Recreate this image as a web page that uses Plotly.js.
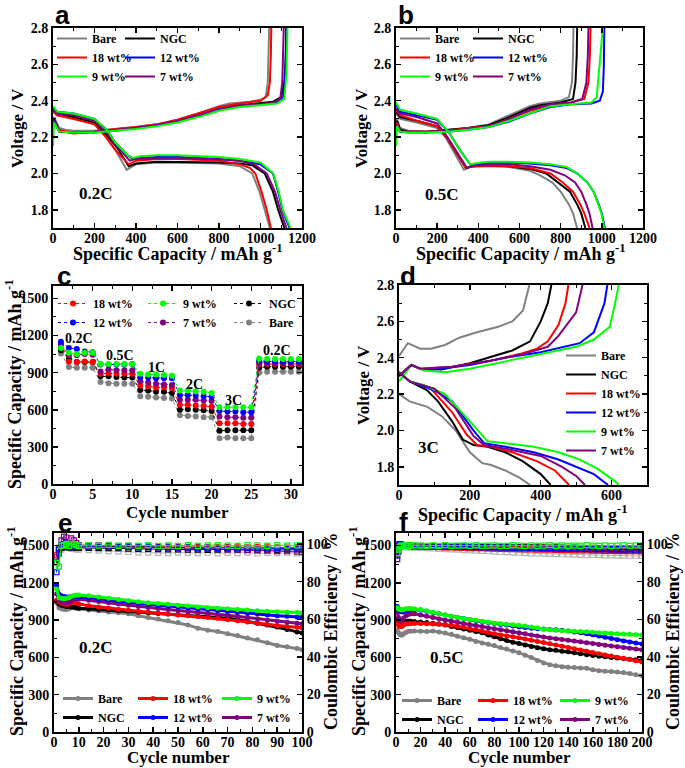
<!DOCTYPE html>
<html><head><meta charset="utf-8">
<script src="https://cdn.plot.ly/plotly-3.0.1.min.js"></script>
<style>html,body{margin:0;padding:0;background:#fff}#chart{width:685px;height:768px}</style>
</head><body><div id="chart"></div>
<script>
// ---------------- DATA ----------------
const seriesNames = ['Bare','NGC','18 wt%','12 wt%','9 wt%','7 wt%'];

// Panel a (0.2C) discharge / charge : capacity (mAh g-1) and voltage (V)
const aDisCapBare=[0,20,100,200,250,300,355,400,500,600,700,800,900,960,995,1020,1045];
const aDisVBare  =[2.35,2.33,2.31,2.27,2.21,2.13,2.02,2.05,2.06,2.06,2.058,2.055,2.04,2.0,1.9,1.8,1.7];
const aDisCapNGC =[0,20,100,200,260,310,365,400,500,600,700,800,900,960,1020,1060,1085,1115];
const aDisVNGC   =[2.35,2.33,2.31,2.28,2.21,2.14,2.04,2.055,2.065,2.065,2.062,2.06,2.055,2.045,2.0,1.9,1.8,1.7];
const aDisCap18  =[0,20,100,200,255,300,365,400,500,600,700,800,900,950,975,1005,1030,1050];
const aDisV18    =[2.34,2.32,2.3,2.27,2.2,2.13,2.05,2.07,2.08,2.08,2.075,2.07,2.05,2.03,2.0,1.9,1.8,1.7];
const aDisCap12  =[0,20,100,200,260,300,360,385,420,500,600,700,800,900,1000,1060,1085,1105,1140];
const aDisV12    =[2.36,2.34,2.33,2.3,2.24,2.17,2.1,2.08,2.085,2.09,2.09,2.085,2.08,2.07,2.05,2.0,1.9,1.8,1.7];
const aDisCap9   =[0,20,100,200,260,300,360,385,420,500,600,700,800,900,1000,1062,1088,1108,1145];
const aDisV9     =[2.37,2.34,2.33,2.3,2.24,2.17,2.1,2.085,2.095,2.1,2.1,2.095,2.09,2.08,2.06,2.0,1.9,1.8,1.7];
const aDisCap7   =[0,20,100,200,255,300,370,400,500,600,700,800,900,970,1030,1070,1095,1125];
const aDisV7     =[2.35,2.33,2.32,2.29,2.23,2.16,2.07,2.08,2.085,2.085,2.08,2.078,2.07,2.05,2.0,1.9,1.8,1.7];
const aChgCapBare=[0,5,30,60,100,200,300,400,500,600,700,800,850,900,950,1000,1025,1035,1040,1042];
const aChgVBare  =[2.3,2.31,2.25,2.24,2.235,2.235,2.245,2.255,2.27,2.295,2.33,2.37,2.385,2.39,2.395,2.405,2.42,2.5,2.65,2.8];
const aChgCapNGC =[0,5,30,100,200,300,400,500,600,700,800,900,1000,1060,1100,1115,1122,1125];
const aChgVNGC   =[2.26,2.28,2.23,2.225,2.23,2.24,2.25,2.265,2.29,2.32,2.355,2.375,2.385,2.395,2.42,2.5,2.65,2.8];
const aChgCap18  =[0,5,30,100,200,300,400,500,600,700,800,900,1000,1035,1045,1050,1052];
const aChgV18    =[2.28,2.3,2.24,2.22,2.23,2.245,2.255,2.27,2.295,2.33,2.365,2.385,2.4,2.43,2.5,2.65,2.8];
const aChgCap12  =[0,5,30,100,200,300,400,500,600,700,800,900,1000,1080,1110,1120,1124];
const aChgV12    =[2.27,2.3,2.23,2.225,2.225,2.235,2.25,2.265,2.285,2.315,2.35,2.37,2.38,2.39,2.42,2.55,2.8];
const aChgCap9   =[0,5,30,100,200,300,400,500,600,700,800,900,1000,1080,1115,1125,1130];
const aChgV9     =[2.15,2.28,2.23,2.225,2.225,2.235,2.245,2.26,2.28,2.31,2.345,2.365,2.375,2.385,2.41,2.55,2.8];
const aChgCap7   =[0,5,30,100,200,300,400,500,600,700,800,900,1000,1060,1095,1105,1110,1112];
const aChgV7     =[2.27,2.29,2.23,2.225,2.23,2.24,2.25,2.265,2.29,2.32,2.355,2.375,2.38,2.39,2.41,2.5,2.65,2.8];

// Panel b (0.5C)
const bDisCapBare=[0,20,100,200,240,280,330,360,450,550,650,700,760,800,840,860,880];
const bDisVBare  =[2.33,2.3,2.28,2.25,2.2,2.12,2.02,2.035,2.04,2.035,2.015,1.99,1.95,1.9,1.83,1.78,1.7];
const bDisCapNGC =[0,20,100,200,245,290,340,370,450,550,650,730,790,845,880,900,920];
const bDisVNGC   =[2.34,2.31,2.29,2.26,2.2,2.12,2.03,2.04,2.045,2.04,2.025,2.0,1.95,1.9,1.83,1.78,1.7];
const bDisCap18  =[0,20,100,200,245,290,340,370,450,550,650,750,810,860,895,915,940];
const bDisV18    =[2.35,2.32,2.29,2.26,2.2,2.12,2.03,2.04,2.045,2.04,2.03,2.0,1.95,1.9,1.83,1.78,1.7];
const bDisCap12  =[0,20,100,200,260,310,360,380,450,550,650,750,830,880,930,960,985,1000,1015];
const bDisV12    =[2.38,2.34,2.32,2.295,2.22,2.13,2.05,2.05,2.06,2.06,2.055,2.045,2.03,2.0,1.95,1.9,1.83,1.78,1.7];
const bDisCap9   =[0,20,100,200,260,310,360,380,450,550,650,750,830,880,930,960,983,998,1012];
const bDisV9     =[2.39,2.35,2.33,2.3,2.22,2.13,2.05,2.055,2.065,2.065,2.06,2.05,2.035,2.0,1.95,1.9,1.83,1.78,1.7];
const bDisCap7   =[0,20,100,200,250,295,345,375,450,550,650,750,820,870,900,925,940,955];
const bDisV7     =[2.36,2.33,2.31,2.275,2.2,2.12,2.03,2.045,2.05,2.05,2.04,2.02,1.99,1.95,1.9,1.83,1.78,1.7];
const bChgCapBare=[0,5,20,60,150,250,350,450,550,650,700,800,840,855,860,862];
const bChgVBare  =[2.26,2.3,2.25,2.235,2.23,2.24,2.25,2.27,2.32,2.37,2.385,2.4,2.42,2.5,2.65,2.8];
const bChgCapNGC =[0,5,20,60,150,250,350,450,550,650,700,800,860,872,878,880];
const bChgVNGC   =[2.25,2.29,2.24,2.23,2.23,2.24,2.25,2.265,2.31,2.36,2.375,2.39,2.41,2.5,2.65,2.8];
const bChgCap18  =[0,5,20,60,150,250,350,450,550,650,750,850,915,935,942,945];
const bChgV18    =[2.25,2.28,2.23,2.23,2.23,2.235,2.25,2.26,2.3,2.345,2.375,2.39,2.41,2.5,2.65,2.8];
const bChgCap12  =[0,5,20,60,150,250,350,450,550,650,750,850,950,990,1005,1010,1012];
const bChgV12    =[2.2,2.26,2.23,2.225,2.225,2.23,2.24,2.255,2.285,2.33,2.365,2.38,2.385,2.4,2.45,2.6,2.8];
const bChgCap9   =[0,5,20,60,150,250,350,450,550,650,750,850,950,975,985,1000,1005];
const bChgV9     =[2.15,2.26,2.23,2.225,2.225,2.23,2.24,2.255,2.29,2.33,2.37,2.38,2.39,2.42,2.55,2.7,2.8];
const bChgCap7   =[0,5,20,60,150,250,350,450,550,650,750,850,905,925,932,935];
const bChgV7     =[2.25,2.27,2.23,2.23,2.23,2.235,2.245,2.26,2.3,2.35,2.38,2.39,2.41,2.5,2.65,2.8];

// Panel c (rate capability)
const cCycles=[1,2,3,4,5,6,7,8,9,10,11,12,13,14,15,16,17,18,19,20,21,22,23,24,25,26,27,28,29,30,31];
const c18  =[1130,990,985,990,985, 890,895,890,890,890, 795,790,780,780,775, 640,640,635,630,625, 490,490,490,485,485, 965,970,970,970,970,970];
const c12  =[1150,1100,1090,1070,1065, 965,965,965,965,970, 860,860,855,855,855, 720,720,715,710,705, 590,585,585,580,580, 995,990,990,990,990,990];
const c9   =[1100,1060,1050,1060,1060, 970,970,970,970,970, 890,885,885,880,875, 755,755,750,745,735, 620,620,620,620,620, 1015,1012,1010,1010,1010,1010];
const c7   =[1125,1040,1040,1050,1045, 910,925,920,920,920, 830,820,810,805,800, 680,680,680,675,670, 545,540,540,535,535, 980,978,978,978,978,978];
const cNGC =[1080,1015,985,985,985, 870,870,865,860,860, 760,755,745,745,735, 600,605,600,595,590, 430,435,435,435,435, 940,948,948,948,948,948];
const cBare=[1055,945,940,940,940, 825,815,810,810,810, 710,705,700,695,690, 555,550,545,540,540, 370,375,370,370,370, 900,908,908,908,908,908];
const cRates=['0.2C','0.5C','1C','2C','3C','0.2C'];
const cRateX=[3.3,8.4,13.0,17.9,22.8,28.2];
const cRateY=[1172,1037,940,808,678,1075];

// Panel d (3C)
const dDisCapBare=[0,30,80,120,160,200,235,260,300,340,370];
const dDisVBare  =[2.2,2.16,2.13,2.08,2.0,1.88,1.82,1.81,1.78,1.74,1.7];
const dChgCapBare=[0,25,60,90,130,170,220,280,320,350,368];
const dChgVBare  =[2.41,2.48,2.45,2.45,2.47,2.51,2.54,2.57,2.6,2.66,2.8];
const dDisCapNGC =[0,30,80,110,150,180,210,250,300,350,400,428];
const dDisVNGC   =[2.32,2.27,2.22,2.16,2.05,1.95,1.92,1.91,1.88,1.83,1.76,1.7];
const dChgCapNGC =[0,35,60,120,200,270,320,370,400,420,430];
const dChgVNGC   =[2.3,2.36,2.34,2.335,2.37,2.41,2.44,2.49,2.6,2.7,2.8];
const dDisCap18  =[0,30,90,150,190,220,260,320,390,440,480];
const dDisV18    =[2.32,2.27,2.23,2.1,1.98,1.92,1.91,1.88,1.83,1.78,1.7];
const dChgCap18  =[0,35,60,150,250,340,390,420,450,470,478];
const dChgV18    =[2.3,2.36,2.34,2.35,2.38,2.42,2.45,2.49,2.58,2.7,2.8];
const dDisCap12  =[0,30,100,150,210,240,300,380,450,550,590];
const dDisV12    =[2.32,2.27,2.22,2.16,2.0,1.93,1.91,1.88,1.84,1.76,1.7];
const dChgCap12  =[0,35,60,100,200,300,400,510,550,580,588];
const dChgV12    =[2.3,2.36,2.34,2.335,2.36,2.4,2.43,2.48,2.54,2.7,2.8];
const dDisCap9   =[0,30,70,130,200,250,300,380,450,510,560,610,620];
const dDisV9     =[2.32,2.27,2.25,2.2,2.05,1.94,1.93,1.91,1.88,1.84,1.79,1.72,1.7];
const dChgCap9   =[0,35,70,130,200,300,400,500,550,595,610,620];
const dChgV9     =[2.27,2.36,2.33,2.32,2.34,2.38,2.42,2.46,2.5,2.57,2.7,2.8];
const dDisCap7   =[0,30,100,160,210,240,300,400,460,500,525];
const dDisV7     =[2.32,2.27,2.23,2.12,1.97,1.92,1.9,1.86,1.8,1.75,1.7];
const dChgCap7   =[0,35,60,150,250,350,420,450,500,518];
const dChgV7     =[2.3,2.36,2.34,2.35,2.38,2.42,2.46,2.52,2.65,2.8];

// Panel e (0.2C cycling)
const eCycles=[1,2,3,4,5,6,7,8,9,10,14,18,22,26,30,34,38,42,46,50,54,58,62,66,70,74,78,82,86,90,94,98,100];
const eCapBare=[1040,1000,990,985,985,990,1000,1000,995,990,980,975,965,958,950,935,920,908,895,880,860,835,818,808,790,775,755,742,718,695,685,672,662];
const eCapNGC =[1050,1030,1020,1015,1010,1010,1005,1005,1000,995,990,985,980,975,970,965,958,952,948,945,940,935,930,925,915,905,890,875,860,845,825,805,795];
const eCap18  =[1060,1045,1035,1030,1025,1030,1040,1045,1040,1030,1015,1005,995,985,978,970,962,955,948,940,935,928,922,915,905,895,885,875,865,855,848,842,838];
const eCap12  =[1180,1110,1095,1090,1085,1085,1088,1092,1092,1090,1080,1072,1062,1052,1043,1035,1028,1020,1012,1005,998,990,985,978,970,962,955,950,942,935,930,925,922];
const eCap9   =[1150,1080,1075,1072,1075,1080,1090,1098,1102,1102,1095,1085,1075,1065,1055,1048,1040,1033,1027,1020,1013,1006,1000,995,990,985,980,975,970,967,963,960,958];
const eCap7   =[1110,1060,1045,1040,1040,1045,1060,1070,1072,1070,1060,1050,1040,1030,1020,1010,1002,993,985,977,970,962,955,948,940,930,920,910,900,890,882,875,870];
const eCEBare=[92,95,97,98,98.5,98,97.5,97.5,97.2,97,96.8,96.5,96.3,96,95.8,95.6,95.5,95.3,95.2,95.5,95.3,95.2,95.4,95.1,95.3,95.2,95.5,95.0,95.3,95.2,95.4,95.1,95.3];
const eCENGC =[90,97,98,98.5,98.5,98.3,98.2,98.3,98.1,98,98,97.9,97.8,97.8,97.6,97.5,97.5,97.3,97.2,97.2,97,97.1,96.9,97,97.2,97,96.9,97,97.1,96.8,97,97.2,97];
const eCE18  =[94,98,99,99.5,99.3,99.1,99,99.2,99,98.9,98.9,98.8,98.9,98.7,98.8,98.6,98.7,98.5,98.6,98.4,98.5,98.4,98.3,98.5,98.4,98.2,98.3,98.4,98.2,98.3,98.1,98.2,98.3];
const eCE12  =[85,97,99,100,101,99,98.5,98.8,98.6,98.5,98.6,98.5,98.7,98.4,98.5,98.3,98.4,98.2,98.3,98.1,98.2,98,98.1,97.9,98,97.9,97.8,97.9,97.7,97.8,97.6,97.7,97.6];
const eCE9   =[90,88,99,99.5,100,99,101,100,99.5,99,99.5,99.2,99.6,99,99.3,99.1,99.4,99,99.3,99.1,99.4,99,99.3,99.5,99.2,99,99.4,99.3,99.1,99.4,99.2,99.3,99.5];
const eCE7   =[93,95,102,104,103.5,101,103,102,100.5,99.5,99.4,99.3,99.2,99,98.8,98.6,98.5,98.3,98.2,98,97.8,97.6,97.5,97.3,97.2,97,96.8,96.6,96.5,96.3,96.2,96,95.8];

// Panel f (0.5C cycling)
const fCycles=[1,2,3,4,5,6,8,10,12,15,20,25,30,35,40,45,50,55,60,65,70,75,80,85,90,95,100,105,110,115,120,125,130,135,140,145,150,155,160,165,170,175,180,185,190,195,200];
const fCapBare=[820,800,785,780,780,790,800,810,810,812,810,808,812,805,795,785,770,758,745,728,715,705,695,680,668,652,638,618,598,575,555,540,532,525,520,518,515,512,500,492,488,486,482,478,470,460,452];
const fCapNGC =[900,880,870,868,870,880,890,892,890,888,885,880,875,868,860,848,840,828,818,808,798,780,765,750,735,722,712,700,688,678,670,662,657,650,645,638,630,622,615,610,605,600,595,590,585,580,575];
const fCap18  =[880,860,850,848,850,860,868,870,872,873,872,870,868,866,864,858,850,842,832,822,812,800,790,780,772,765,758,748,738,728,720,710,700,690,680,670,660,650,640,630,620,612,602,592,582,572,562];
const fCap12  =[1010,990,975,968,965,968,975,980,985,985,980,970,960,950,940,930,920,912,905,895,888,880,872,865,860,852,846,840,834,830,828,825,822,818,812,805,798,790,782,772,762,752,742,732,724,716,708];
const fCap9   =[1000,990,985,982,982,985,990,992,993,990,985,975,962,950,940,930,920,912,905,898,890,882,875,870,866,862,858,852,845,838,826,822,818,815,812,810,808,806,802,798,795,792,790,788,785,782,780];
const fCap7   =[960,920,900,895,900,915,935,945,950,950,940,930,920,908,898,890,882,872,865,856,848,838,830,822,814,806,798,790,780,772,764,756,750,744,738,732,726,718,712,704,698,692,686,680,674,668,662];
const fCEBare=[97,98,98.5,98.6,98.5,98.4,98.5,98.3,98.2,98.1,98,97.8,97.7,97.5,97.3,97.2,97,96.8,96.7,96.5,96.4,96.2,96,95.8,95.7,95.5,95.4,95.2,95.1,95,94.9,94.8,94.7,94.6,94.5,94.4,94.3,94.2,94.2,94.1,94,94,93.9,93.9,93.8,93.8,93.7];
const fCENGC =[96,99,99.5,99.3,99.2,99.1,99,99.1,99,98.9,98.9,98.8,98.9,98.8,98.7,98.8,98.7,98.6,98.7,98.5,98.6,98.5,98.4,98.5,98.4,98.3,98.4,98.3,98.2,98.3,98.2,98.1,98.2,98.1,98,98.1,98,97.9,98,97.9,97.8,97.9,97.8,97.7,97.8,97.7,97.6];
const fCE18  =[97,99.5,99.8,99.5,99.4,99.3,99.2,99,98.9,98.8,98.7,98.6,98.5,98.4,98.3,98.2,98.1,98,97.9,97.8,97.8,97.7,97.6,97.5,97.5,97.4,97.3,97.2,97.2,97.1,97,97,96.9,96.8,96.8,96.7,96.6,96.6,96.5,96.5,96.4,96.4,96.3,96.3,96.2,96.2,96.1];
const fCE12  =[94,99,100,99.5,99.3,99.2,99.1,99,99,98.9,98.9,98.8,98.8,98.7,98.7,98.6,98.6,98.5,98.5,98.4,98.4,98.3,98.3,98.2,98.2,98.1,98.1,98,98,97.9,97.9,97.8,97.8,97.7,97.7,97.6,97.6,97.5,97.5,97.4,97.4,97.3,97.3,97.2,97.2,97.1,97.1];
const fCE9   =[95,97,98.5,99,99.2,99.1,99.3,99.2,99,99.3,99.2,99.0,99.3,99.1,99.4,99.0,99.2,99.3,99.1,99.4,99.0,99.2,99.3,99.1,99.0,99.4,99.2,99.1,99.3,99.0,99.2,99.4,99.1,99.3,99.0,99.2,99.1,99.4,99.2,99.0,99.3,99.1,99.2,99.4,99.0,99.3,99.2];
const fCE7   =[92,96,99,99.8,99.5,99.4,99.3,99.2,99.1,99,99,98.9,98.8,98.8,98.7,98.6,98.6,98.5,98.4,98.4,98.3,98.2,98.2,98.1,98,98,97.9,97.8,97.8,97.7,97.6,97.6,97.5,97.4,97.4,97.3,97.2,97.2,97.1,97,97,96.9,96.8,96.8,96.7,96.6,96.6];

// ---------------- STYLE / LAYOUT ----------------
const W=685,H=768;
const SERIF='Liberation Serif';
const SANS='Liberation Sans';
const COLORS={'Bare':'#808080','NGC':'#000000','18 wt%':'#ff0000','12 wt%':'#0000ff','9 wt%':'#00ff00','7 wt%':'#800080'};
const CECOLORS={'Bare':'#b4b4b4','NGC':'#000000','18 wt%':'#ff0000','12 wt%':'#0000ff','9 wt%':'#00ff00','7 wt%':'#800080'};
const RANK={'Bare':1,'NGC':2,'18 wt%':3,'12 wt%':4,'9 wt%':5,'7 wt%':6};

function xd(a,b){return [a/W,b/W];}
function yd(t,b){return [1-b/H,1-t/H];}
const TF={family:SERIF,size:14,weight:'bold',color:'#000'};
function ax(o){
  const base={showline:true,linewidth:2,linecolor:'#000',mirror:'ticks',ticks:'inside',ticklen:5,tickwidth:1.5,tickcolor:'#000',
    showgrid:false,zeroline:false,fixedrange:true,automargin:false,tickfont:TF,tick0:0};
  const r=Object.assign(base,o);
  if(o.mdt) { r.minor={ticks:'inside',ticklen:3,tickwidth:1,tickcolor:'#000',dtick:o.mdt,showgrid:false}; delete r.mdt; }
  return r;
}
function xax(o){ return ax(Object.assign({ticklabelstandoff:-4},o)); }

const traces=[];
function gcdPanel(xa,ya,data,legendOf){
  data.forEach(d=>{
    const [nm,dc,dv,cc,cv]=d;
    traces.push({type:'scatter',mode:'lines',x:dc,y:dv,xaxis:xa,yaxis:ya,name:nm,legend:legendOf[nm],legendrank:RANK[nm],
      line:{color:COLORS[nm],width:2},hoverinfo:'skip'});
    traces.push({type:'scatter',mode:'lines',x:cc,y:cv,xaxis:xa,yaxis:ya,name:nm,showlegend:false,
      line:{color:COLORS[nm],width:2},hoverinfo:'skip'});
  });
}
gcdPanel('x','y',[
  ['Bare',aDisCapBare,aDisVBare,aChgCapBare,aChgVBare],
  ['NGC',aDisCapNGC,aDisVNGC,aChgCapNGC,aChgVNGC],
  ['18 wt%',aDisCap18,aDisV18,aChgCap18,aChgV18],
  ['12 wt%',aDisCap12,aDisV12,aChgCap12,aChgV12],
  ['7 wt%',aDisCap7,aDisV7,aChgCap7,aChgV7],
  ['9 wt%',aDisCap9,aDisV9,aChgCap9,aChgV9]],
  {'Bare':'legend','18 wt%':'legend','9 wt%':'legend','NGC':'legend2','12 wt%':'legend2','7 wt%':'legend2'});
gcdPanel('x2','y2',[
  ['Bare',bDisCapBare,bDisVBare,bChgCapBare,bChgVBare],
  ['NGC',bDisCapNGC,bDisVNGC,bChgCapNGC,bChgVNGC],
  ['18 wt%',bDisCap18,bDisV18,bChgCap18,bChgV18],
  ['7 wt%',bDisCap7,bDisV7,bChgCap7,bChgV7],
  ['12 wt%',bDisCap12,bDisV12,bChgCap12,bChgV12],
  ['9 wt%',bDisCap9,bDisV9,bChgCap9,bChgV9]],
  {'Bare':'legend3','18 wt%':'legend3','9 wt%':'legend3','NGC':'legend4','12 wt%':'legend4','7 wt%':'legend4'});
gcdPanel('x4','y4',[
  ['Bare',dDisCapBare,dDisVBare,dChgCapBare,dChgVBare],
  ['NGC',dDisCapNGC,dDisVNGC,dChgCapNGC,dChgVNGC],
  ['18 wt%',dDisCap18,dDisV18,dChgCap18,dChgV18],
  ['12 wt%',dDisCap12,dDisV12,dChgCap12,dChgV12],
  ['9 wt%',dDisCap9,dDisV9,dChgCap9,dChgV9],
  ['7 wt%',dDisCap7,dDisV7,dChgCap7,dChgV7]],
  {'Bare':'legend8','NGC':'legend8','18 wt%':'legend8','12 wt%':'legend8','9 wt%':'legend8','7 wt%':'legend8'});

const CRANK={'18 wt%':1,'12 wt%':2,'9 wt%':3,'7 wt%':4,'NGC':5,'Bare':6};
[['Bare',cBare,'legend7'],['NGC',cNGC,'legend7'],['18 wt%',c18,'legend5'],['7 wt%',c7,'legend6'],['12 wt%',c12,'legend5'],['9 wt%',c9,'legend6']]
.forEach(([nm,v,lg])=>{
  traces.push({type:'scatter',mode:'lines+markers',x:cCycles,y:v,xaxis:'x3',yaxis:'y3',name:nm,legend:lg,legendrank:CRANK[nm],
    line:{color:COLORS[nm],width:1,dash:'dot'},marker:{color:COLORS[nm],size:6,symbol:'circle'},hoverinfo:'skip'});
});

function cyclePanel(xa,ya,ya2,cyc,caps,ces,legendOf){
  const order=['Bare','NGC','18 wt%','7 wt%','12 wt%','9 wt%'];
  order.forEach(nm=>{
    traces.push({type:'scatter',mode:'lines+markers',x:cyc,y:ces[nm],xaxis:xa,yaxis:ya2,name:nm+' CE',showlegend:false,
      line:{color:CECOLORS[nm],width:1},marker:{color:CECOLORS[nm],size:5,symbol:'square-open',line:{width:1.2}},hoverinfo:'skip'});
  });
  order.forEach(nm=>{
    traces.push({type:'scatter',mode:'lines+markers',x:cyc,y:caps[nm],xaxis:xa,yaxis:ya,name:nm,legend:legendOf[nm],legendrank:RANK[nm],
      line:{color:COLORS[nm],width:3},marker:{color:COLORS[nm],size:5,symbol:'circle'},hoverinfo:'skip'});
  });
}
cyclePanel('x5','y5','y7',eCycles,
  {'Bare':eCapBare,'NGC':eCapNGC,'18 wt%':eCap18,'12 wt%':eCap12,'9 wt%':eCap9,'7 wt%':eCap7},
  {'Bare':eCEBare,'NGC':eCENGC,'18 wt%':eCE18,'12 wt%':eCE12,'9 wt%':eCE9,'7 wt%':eCE7},
  {'Bare':'legend9','NGC':'legend9','18 wt%':'legend10','12 wt%':'legend10','9 wt%':'legend11','7 wt%':'legend11'});
cyclePanel('x6','y6','y8',fCycles,
  {'Bare':fCapBare,'NGC':fCapNGC,'18 wt%':fCap18,'12 wt%':fCap12,'9 wt%':fCap9,'7 wt%':fCap7},
  {'Bare':fCEBare,'NGC':fCENGC,'18 wt%':fCE18,'12 wt%':fCE12,'9 wt%':fCE9,'7 wt%':fCE7},
  {'Bare':'legend12','NGC':'legend12','18 wt%':'legend13','12 wt%':'legend13','9 wt%':'legend14','7 wt%':'legend14'});

const layout={
  width:W,height:H,margin:{l:0,r:0,t:0,b:0},paper_bgcolor:'#fff',plot_bgcolor:'rgba(0,0,0,0)',
  font:{family:SERIF,color:'#000'},hovermode:false,
  xaxis: xax({domain:xd(53,302),anchor:'y',range:[0,1200],dtick:200,mdt:100}),
  yaxis: ax({domain:yd(28,228),anchor:'x',range:[1.7,2.8],dtick:0.2,mdt:0.1,tickformat:'.1f'}),
  xaxis2:xax({domain:xd(396,643),anchor:'y2',range:[0,1200],dtick:200,mdt:100}),
  yaxis2:ax({domain:yd(28,228),anchor:'x2',range:[1.7,2.8],dtick:0.2,mdt:0.1,tickformat:'.1f'}),
  xaxis3:xax({domain:xd(53,302),anchor:'y3',range:[0,31.4],dtick:5,mdt:2.5}),
  yaxis3:ax({domain:yd(286,484),anchor:'x3',range:[0,1600],dtick:300,mdt:150}),
  xaxis4:xax({domain:xd(399,647),anchor:'y4',range:[0,700],dtick:200,mdt:100}),
  yaxis4:ax({domain:yd(285,485),anchor:'x4',range:[1.7,2.8],dtick:0.2,mdt:0.1,tickformat:'.1f'}),
  xaxis5:xax({domain:xd(54,302),anchor:'y5',range:[0,100],dtick:10,mdt:5}),
  yaxis5:ax({domain:yd(533,732),anchor:'x5',range:[0,1600],dtick:300,mdt:150,mirror:true}),
  yaxis7:ax({domain:yd(533,732),anchor:'x5',overlaying:'y5',side:'right',range:[0,105.9],dtick:20,mdt:10,mirror:false}),
  xaxis6:xax({domain:xd(396,642),anchor:'y6',range:[0,200],dtick:20,mdt:10}),
  yaxis6:ax({domain:yd(533,732),anchor:'x6',range:[0,1600],dtick:300,mdt:150,mirror:true}),
  yaxis8:ax({domain:yd(533,732),anchor:'x6',overlaying:'y6',side:'right',range:[0,105.9],dtick:20,mdt:10,mirror:false}),
  annotations:[],
  showlegend:true
};
function leg(lineStartPx,topPx){
  return {x:(lineStartPx-5)/W,y:1-topPx/H,xanchor:'left',yanchor:'top',bgcolor:'rgba(0,0,0,0)',borderwidth:0,
    font:{family:SERIF,size:12,weight:'bold',color:'#000'},orientation:'v',tracegroupgap:0,itemclick:false,itemdoubleclick:false};
}
layout.legend  =leg(57,24);  layout.legend2 =leg(125,24);
layout.legend3 =leg(400,24); layout.legend4 =leg(473,24);
layout.legend5 =leg(58,289); layout.legend6 =leg(148,289); layout.legend7 =leg(234,289);
layout.legend8 =leg(566,341);
layout.legend9 =leg(63,684); layout.legend10=leg(138,684); layout.legend11=leg(222,684);
layout.legend12=leg(402,686); layout.legend13=leg(478,686); layout.legend14=leg(560,686);

// axis titles (placed as text next to their axes)
const CAP='Specific Capacity / mAh g<sup>-1</sup>';
const CAPF={family:SERIF,size:18,weight:'bold',color:'#000'};
const VF={family:SERIF,size:17,weight:'bold',color:'#000'};
const CYF={family:SERIF,size:17,weight:'bold',color:'#000'};
function ttl(text,x,y,rot,font){
  layout.annotations.push({text:text,xref:'paper',yref:'paper',x:x/W,y:1-y/H,xanchor:'center',yanchor:'middle',
    textangle:rot,showarrow:false,font:font});
}
ttl(CAP,177,253,0,CAPF); ttl('Voltage / V',18,128,-90,VF);
ttl(CAP,520,253,0,CAPF); ttl('Voltage / V',362,128,-90,VF);
ttl('Cycle number',177,512,0,CYF); ttl(CAP,13,385,-90,CAPF);
ttl(CAP,522,513,0,CAPF); ttl('Voltage / V',363,385,-90,VF);
ttl('Cycle number',178,757,0,CYF); ttl(CAP,15,632,-90,CAPF); ttl('Coulombic Efficiency / %',331,632,-90,CAPF);
ttl('Cycle number',519,757,0,CYF); ttl(CAP,357,632,-90,CAPF); ttl('Coulombic Efficiency / %',673,632,-90,CAPF);

// panel letters
[['a',62,15],['b',406,15],['c',64,276],['d',408,276],['e',65,523],['f',403,522]].forEach(([t,x,y])=>{
  layout.annotations.push({text:t,xref:'paper',yref:'paper',x:x/W,y:1-y/H,xanchor:'center',yanchor:'middle',showarrow:false,
    font:{family:SANS,size:26,weight:'bold',color:'#000'}});
});
// rate labels
const LBF={family:SERIF,size:17,weight:'bold',color:'#000'};
layout.annotations.push({text:'0.2C',xref:'x',yref:'y',x:206,y:1.892,showarrow:false,font:LBF});
layout.annotations.push({text:'0.5C',xref:'x2',yref:'y2',x:222,y:1.887,showarrow:false,font:LBF});
layout.annotations.push({text:'3C',xref:'x4',yref:'y4',x:82,y:1.907,showarrow:false,font:LBF});
layout.annotations.push({text:'0.2C',xref:'x5',yref:'y5',x:17,y:683,showarrow:false,font:LBF});
layout.annotations.push({text:'0.5C',xref:'x6',yref:'y6',x:41.5,y:603,showarrow:false,font:LBF});
cRates.forEach((t,i)=>layout.annotations.push({text:t,xref:'x3',yref:'y3',x:cRateX[i],y:cRateY[i],showarrow:false,
  font:{family:SERIF,size:14,weight:'bold',color:'#000'}}));

Plotly.newPlot('chart',traces,layout,{staticPlot:true,displayModeBar:false});
</script></body></html>
